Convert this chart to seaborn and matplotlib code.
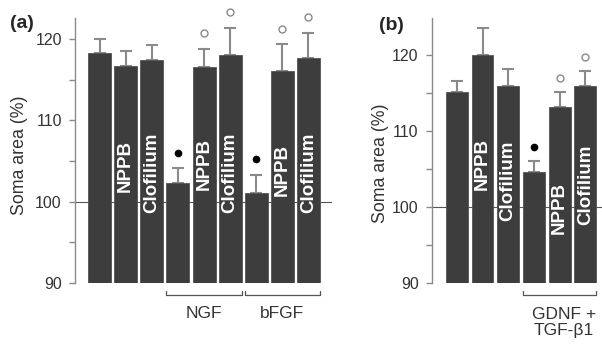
import numpy as np
import pandas as pd
import seaborn as sns
import matplotlib.pyplot as plt

# panel (a)
groups_a = ["ctrl", "NPPB", "Clofilium", "NGF", "NGF NPPB", "NGF Clofilium",
            "bFGF", "bFGF NPPB", "bFGF Clofilium"]
mean_a = [118.3, 116.7, 117.4, 102.3, 116.6, 118.0, 101.1, 116.1, 117.7]
sem_a = [1.7, 1.9, 1.9, 1.8, 2.2, 3.4, 2.2, 3.3, 3.1]
text_a = ["", "NPPB", "Clofilium", "", "NPPB", "Clofilium", "", "NPPB", "Clofilium"]
sig_a = ["", "", "", "filled", "open", "open", "filled", "open", "open"]

# panel (b)
groups_b = ["ctrl", "NPPB", "Clofilium", "GDNF+TGF", "GDNF+TGF NPPB", "GDNF+TGF Clofilium"]
mean_b = [115.2, 120.0, 115.9, 104.6, 113.1, 115.9]
sem_b = [1.4, 3.6, 2.3, 1.4, 2.0, 2.0]
text_b = ["", "NPPB", "Clofilium", "", "NPPB", "Clofilium"]
sig_b = ["", "", "", "filled", "open", "open"]

sns.set_style("white")
plt.rcParams['font.family'] = ['Liberation Sans', 'DejaVu Sans']

BAR = "#3d3d3d"
GREY = "#8a8a8a"

fig = plt.figure(figsize=(6.02, 3.47), dpi=100)
ax_a = fig.add_axes([75/602, 64/347, 257/602, 265/347])
ax_b = fig.add_axes([431.7/602, 64.3/347, 170.3/602, 264.7/347])


def draw_panel(ax, groups, means, sems, texts, sigs, text_y, width, xlim, ylim):
    df = pd.DataFrame({"group": groups, "mean": means})
    sns.barplot(data=df, x="group", y="mean", color=BAR, saturation=1,
                width=width, edgecolor="#555555", linewidth=0.6, ax=ax, zorder=2)
    x = np.arange(len(groups))
    ax.errorbar(x, means, yerr=[np.zeros(len(sems)), sems], fmt="none",
                ecolor=GREY, elinewidth=1.5, capsize=4, capthick=1.5, zorder=1)
    ax.axhline(100, color="#555555", lw=0.8, zorder=0)
    for i, (m, s, t, g) in enumerate(zip(means, sems, texts, sigs)):
        if t:
            ax.text(i, text_y[i], t, rotation=90, ha="center", va="center",
                    color="white", fontsize=13.5, fontweight="bold", zorder=3)
        if g == "filled":
            ax.plot(i, m + s + 1.9, "o", ms=4.5, color="black", clip_on=False)
        elif g == "open":
            ax.plot(i, m + s + 1.9, "o", ms=5, mfc="white", mec=GREY, mew=1,
                    clip_on=False)
    ax.set_xlim(*xlim)
    ax.set_ylim(*ylim)
    ax.set_xticks([])
    ax.set_xlabel("")
    ax.set_yticks([90, 100, 110, 120])
    ax.set_yticks([95, 105, 115], minor=True)
    ax.tick_params(axis="y", which="both", left=True, length=4, width=1,
                   color=GREY, labelsize=11.5, labelcolor="#333333", pad=5.5)
    for side in ["top", "right", "bottom"]:
        ax.spines[side].set_visible(False)
    ax.spines["left"].set_color(GREY)
    ax.spines["left"].set_linewidth(1)
    ax.set_ylabel("Soma area (%)", fontsize=12.8, color="#333333")


def bracket(ax, i0, i1, width, y, dy):
    x0, x1 = i0 - width/2, i1 + width/2
    ax.plot([x0, x0, x1, x1], [y + dy, y, y, y + dy], color="#555555", lw=0.9,
            clip_on=False)


w_a = 0.88
draw_panel(ax_a, groups_a, mean_a, sem_a, text_a, sig_a,
           [0, 104.4, 103.5, 0, 104.6, 103.5, 0, 103.9, 103.5],
           w_a, (-0.94, 8.9), (90, 122.6))
ax_a.yaxis.set_label_coords(-0.183, 0.483)
bracket(ax_a, 3, 5, w_a, 88.5, 0.5)
bracket(ax_a, 6, 8, w_a, 88.5, 0.5)
ax_a.text(4, 86.3, "NGF", ha="center", va="center", fontsize=12.5, color="#333333")
ax_a.text(7, 86.3, "bFGF", ha="center", va="center", fontsize=12.5, color="#333333")

w_b = 0.85
draw_panel(ax_b, groups_b, mean_b, sem_b, text_b, sig_b,
           [0, 105.6, 103.4, 0, 99.8, 102.9],
           w_b, (-0.98, 5.65), (90, 124.9))
ax_b.yaxis.set_label_coords(-0.251, 0.45)
bracket(ax_b, 3, 5, w_b, 88.4, 0.5)
ax_b.text(4.17, 84.7, "GDNF +\nTGF-\u03b21", ha="center", va="center",
          multialignment="center", linespacing=1.1, fontsize=12.5, color="#333333")

fig.text(22/602, 1 - 24/347, "(a)", ha="center", va="center", fontsize=14,
         fontweight="bold")
fig.text(391/602, 1 - 26/347, "(b)", ha="center", va="center", fontsize=14,
         fontweight="bold")

fig.savefig("out.png", dpi=100)
